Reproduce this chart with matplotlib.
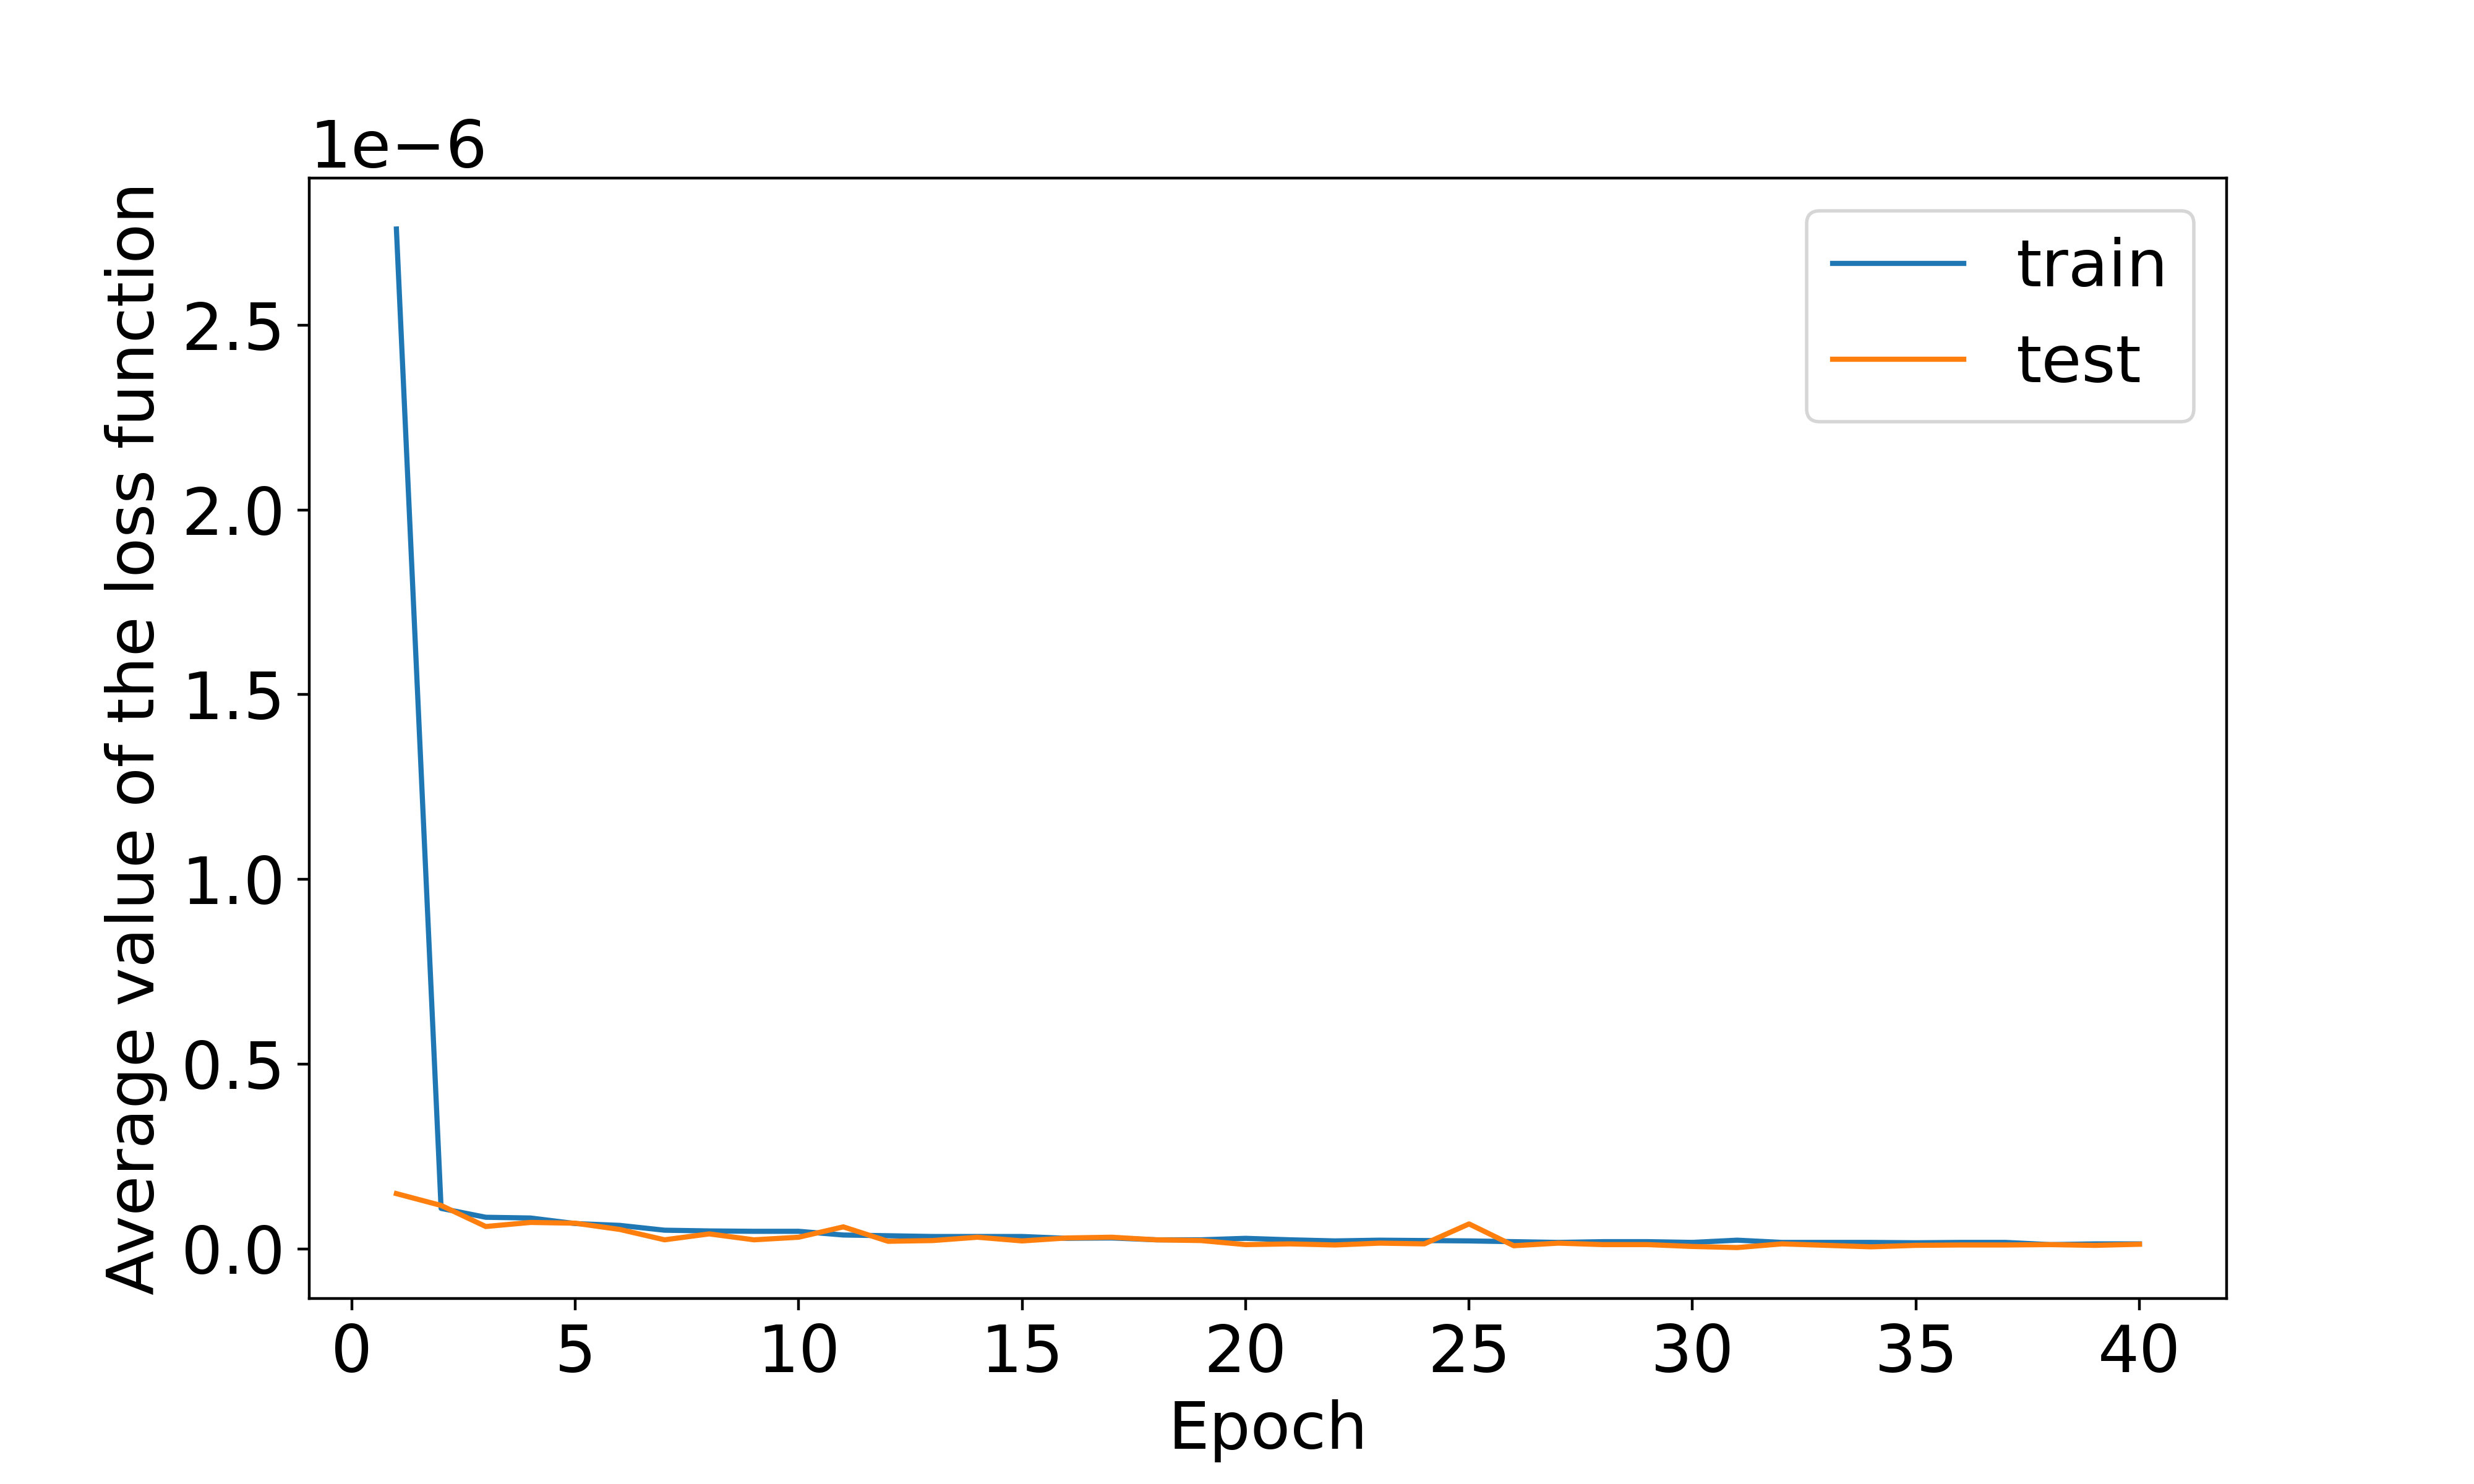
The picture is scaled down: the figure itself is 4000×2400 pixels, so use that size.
import numpy as np
import matplotlib
matplotlib.use("Agg")
import matplotlib.pyplot as plt

# valeurs (en unités de 1e-7)
epochs = list(range(1, 41))
train_loss = [27.6, 1.10, 0.86, 0.84, 0.69, 0.64, 0.51, 0.49, 0.48, 0.48,
              0.38, 0.36, 0.34, 0.34, 0.34, 0.29, 0.30, 0.25, 0.25, 0.29,
              0.25, 0.22, 0.24, 0.23, 0.22, 0.20, 0.18, 0.20, 0.20, 0.18,
              0.24, 0.18, 0.18, 0.18, 0.17, 0.18, 0.18, 0.12, 0.14, 0.14]
test_loss = [1.50, 1.18, 0.61, 0.72, 0.70, 0.53, 0.25, 0.41, 0.25, 0.32,
             0.60, 0.21, 0.23, 0.32, 0.22, 0.30, 0.32, 0.25, 0.23, 0.12,
             0.14, 0.11, 0.16, 0.14, 0.68, 0.09, 0.16, 0.12, 0.12, 0.07,
             0.04, 0.14, 0.10, 0.06, 0.10, 0.11, 0.11, 0.12, 0.10, 0.13]

train_loss = np.array(train_loss) * 1e-7
test_loss = np.array(test_loss) * 1e-7

plt.rcParams['font.size'] = 19

fig = plt.figure(figsize=(10, 6))
plt.plot(epochs, train_loss, label='train')
plt.plot(epochs, test_loss, label='test')
plt.xlabel('Epoch')
plt.ylabel('Average value of the loss function')
plt.legend()
plt.subplots_adjust(bottom=0.125)
plt.savefig('out.png', dpi=400)
